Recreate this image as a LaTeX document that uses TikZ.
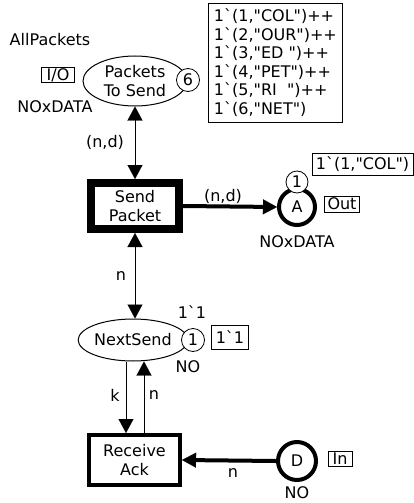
\documentclass[tikz,border=0pt]{standalone}
\usepackage{fontspec}
\setmainfont{DejaVu Sans}[Ligatures=TeXOff]
\usetikzlibrary{arrows.meta,shapes.geometric}
\newcommand{\bq}{\textasciigrave}
\newcommand{\dq}{\symbol{34}}
\begin{document}
\begin{tikzpicture}[x=1pt,y=-1pt,
  font=\fontsize{16}{18.5}\selectfont,
  >={Triangle[length=14pt,width=15pt,line width=0.1pt]},
  place/.style={ellipse, draw, line width=1pt, inner sep=0pt},
  token/.style={circle, draw, line width=0.8pt, fill=white, inner sep=0pt, minimum size=23pt},
  trans/.style={rectangle, draw, align=center, inner sep=0pt},
  tag/.style={rectangle, draw, line width=0.8pt, inner sep=0pt},
  markbox/.style={rectangle, draw, line width=0.8pt, inner sep=0pt, fill=white},
  arcthin/.style={line width=1pt},
  arcthick/.style={line width=4pt},
  lbl/.style={inner sep=0pt}
]
\useasboundingbox (0,0) rectangle (414,503);

% Packets To Send
\node[place, minimum width=104pt, minimum height=50pt, align=center] (pts) at (135,81) {Packets\\To Send};
\node[token] (c6) at (188,80) {6};
\node[lbl] (allp) at (50,40) {AllPackets};
\node[tag, minimum width=33pt, minimum height=15pt] (io) at (58,75) {I/O};
\node[lbl] (ptstype) at (55,107) {NOxDATA};
\node[markbox, anchor=north west, minimum width=134pt, minimum height=119pt, align=left, inner xsep=2pt] (ptsmark) at (208,3)
 {1\bq(1,\dq COL\dq)++\\1\bq(2,\dq OUR\dq)++\\1\bq(3,\dq ED\ \dq)++\\1\bq(4,\dq PET\dq)++\\1\bq(5,\dq RI\ \ \dq)++\\1\bq(6,\dq NET\dq)};

% Send Packet
\node[trans, line width=8pt, minimum width=88pt, minimum height=46pt] (sp) at (135,206) {Send\\Packet};

% A
\node[circle, draw, line width=4pt, minimum size=36pt, inner sep=0pt] (A) at (297,207) {A};
\node[token, minimum size=22pt] (c1A) at (297,182) {1};
\node[markbox, minimum width=101pt, minimum height=22pt] (Amark) at (362.5,164) {1\bq(1,\dq COL\dq)};
\node[tag, minimum width=35pt, minimum height=16pt] (out) at (342,204) {Out};
\node[lbl] (Atype) at (297,242) {NOxDATA};

% NextSend
\node[place, minimum width=103pt, minimum height=42pt] (ns) at (133,340) {NextSend};
\node[token] (c1N) at (193,340) {1};
\node[lbl] (nsinit) at (192,312) {1\bq1};
\node[markbox, minimum width=37pt, minimum height=24pt] (nsmark) at (230,337) {1\bq1};
\node[lbl] (nstype) at (188,367) {NO};

% Receive Ack
\node[trans, line width=4pt, minimum width=91pt, minimum height=50pt] (ra) at (134.5,460) {Receive\\Ack};

% D
\node[circle, draw, line width=4pt, minimum size=38pt, inner sep=0pt] (D) at (297,461) {D};
\node[tag, minimum width=24pt, minimum height=15pt] (in) at (340,459) {In};
\node[lbl] (Dtype) at (297,493) {NO};

% arcs
\draw[arcthin, <->] (pts.south) -- (sp.north);
\node[lbl] (l1) at (105,142) {(n,d)};
\draw[arcthick, ->] (sp.east) -- (A.west);
\node[lbl] (l2) at (223,196) {(n,d)};
\draw[arcthin, <->] (sp.south) -- (sp.south |- ns.north);
\node[lbl] (l3) at (121,276) {n};
\draw[arcthin, ->] ([xshift=-7pt]ns.south) -- ([xshift=-8.5pt]ra.north);
\node[lbl] (l4) at (115,395) {k};
\draw[arcthin, ->] ([xshift=9.5pt]ra.north) -- ([xshift=11pt]ns.south);
\node[lbl] (l5) at (154,395) {n};
\draw[arcthick, ->] (D.west) -- (ra.east);
\node[lbl] (l6) at (233,473) {n};
\end{tikzpicture}
\end{document}
